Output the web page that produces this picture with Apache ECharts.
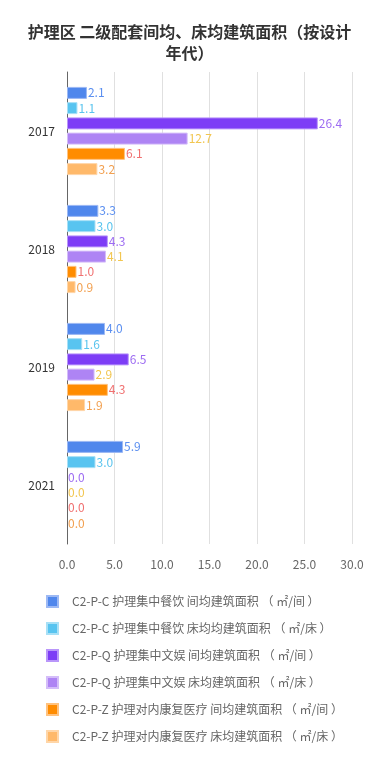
<!DOCTYPE html>
<html>
<head>
<meta charset="utf-8">
<script src="https://cdn.jsdelivr.net/npm/echarts@6/dist/echarts.min.js"></script>
<style>html,body{margin:0;padding:0;background:#fff;}#c{width:379px;height:769px;}</style>
</head>
<body>
<div id="c"></div>
<script>
const categories = ['2017', '2018', '2019', '2021'];
const seriesNames = [
  'C2-P-C 护理集中餐饮 间均建筑面积 （ ㎡/间 ）',
  'C2-P-C 护理集中餐饮 床均均建筑面积 （ ㎡/床 ）',
  'C2-P-Q 护理集中文娱 间均建筑面积 （ ㎡/间 ）',
  'C2-P-Q 护理集中文娱 床均建筑面积 （ ㎡/床 ）',
  'C2-P-Z 护理对内康复医疗 间均建筑面积 （ ㎡/间 ）',
  'C2-P-Z 护理对内康复医疗 床均建筑面积 （ ㎡/床 ）'
];
const s1 = [2.1, 3.3, 4.0, 5.9];
const s2 = [1.1, 3.0, 1.6, 3.0];
const s3 = [26.4, 4.3, 6.5, 0.0];
const s4 = [12.7, 4.1, 2.9, 0.0];
const s5 = [6.1, 1.0, 4.3, 0.0];
const s6 = [3.2, 0.9, 1.9, 0.0];
const xTicks = [0, 5, 10, 15, 20, 25, 30];

const barColors = ['#5087EC', '#58C4F0', '#7D3DF6', '#AE84F4', '#FF8C00', '#FFB96A'];
const borderColors = ['#9DB9F4', '#A8E0F6', '#B996FA', '#D4BDF9', '#FFC27F', '#FFD6A8'];
const labelColors = ['#5B8FF0', '#5AC4EE', '#9D6CF2', '#F2C650', '#F07070', '#F2A050'];
const allData = [s1, s2, s3, s4, s5, s6];

const font = '"Noto Sans CJK SC", "Noto Sans", sans-serif';
const chart = echarts.init(document.getElementById('c'));
chart.setOption({
  animation: false,
  textStyle: { fontFamily: font },
  title: {
    text: '护理区 二级配套间均、床均建筑面积（按设计\n年代）',
    left: 'center',
    top: 16,
    textStyle: { fontSize: 16, fontWeight: 'bold', color: '#333', lineHeight: 21, fontFamily: font }
  },
  grid: { left: 67, right: 27, top: 72, bottom: 225, containLabel: false },
  xAxis: {
    type: 'value',
    min: xTicks[0], max: xTicks[xTicks.length - 1], interval: 5,
    axisLine: { show: false },
    axisTick: { show: false },
    axisLabel: { color: '#666', fontSize: 12, margin: 14, formatter: v => v.toFixed(1) },
    splitLine: { lineStyle: { color: '#e0e0e0' } }
  },
  yAxis: {
    type: 'category',
    inverse: true,
    data: categories,
    axisLine: { lineStyle: { color: '#666' } },
    axisTick: { show: false },
    axisLabel: { color: '#333', fontSize: 12, margin: 12 }
  },
  legend: {
    orient: 'vertical',
    left: 41,
    top: 590,
    itemWidth: 11,
    itemHeight: 11,
    itemGap: 14,
    icon: 'rect',
    textStyle: { color: '#666', fontSize: 12, padding: [0, 0, 0, 9], fontFamily: font },
    data: seriesNames
  },
  series: allData.map((d, i) => ({
    name: seriesNames[i],
    type: 'bar',
    data: d.map(v => ({ value: v, itemStyle: { borderWidth: v > 0 ? 1 : 0 } })),
    barWidth: 12,
    barGap: '27%',
    itemStyle: { color: barColors[i], borderColor: borderColors[i], borderWidth: 1 },
    label: {
      show: true, position: 'right', distance: 1,
      color: labelColors[i], fontSize: 12,
      formatter: p => p.value.toFixed(1)
    }
  }))
});
</script>
</body>
</html>
